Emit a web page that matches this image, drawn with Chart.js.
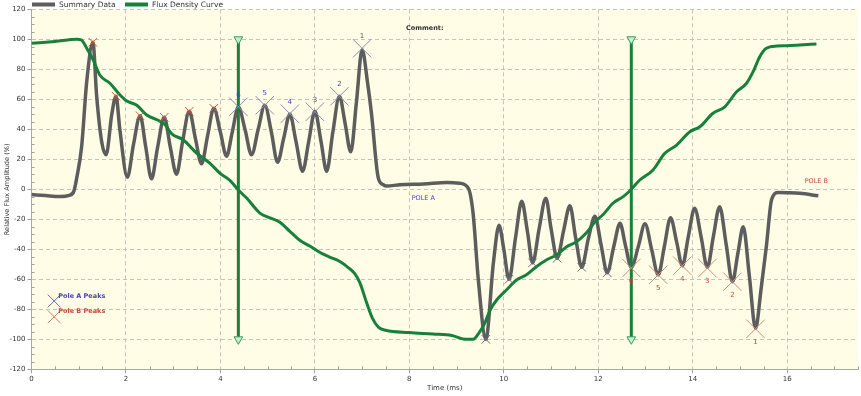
<!DOCTYPE html>
<html><head><meta charset="utf-8">
<script src="https://cdn.jsdelivr.net/npm/chart.js@4/dist/chart.umd.min.js"></script>
<style>html,body{margin:0;padding:0;background:#fff;}canvas{display:block;}</style>
</head><body>
<canvas id="c" width="861" height="396"></canvas>
<script>
// ---- data ----
const summaryX = [0,0.3,0.6,0.8,0.9,0.96,1.06,1.17,1.30,1.38,1.49,1.58,1.70,1.79,1.87,2.03,2.16,2.30,2.42,2.54,2.67,2.81,2.94,3.07,3.20,3.34,3.47,3.60,3.73,3.86,4.00,4.13,4.25,4.38,4.52,4.66,4.80,4.94,5.08,5.21,5.34,5.47,5.60,5.74,5.87,6.00,6.13,6.25,6.38,6.52,6.64,6.76,6.88,7.00,7.12,7.20,7.34,7.45,7.52,7.80,8.30,8.80,9.07,9.25,9.35,9.46,9.62,9.78,9.90,10.00,10.11,10.25,10.38,10.50,10.61,10.75,10.89,11.00,11.13,11.27,11.40,11.52,11.65,11.79,11.93,12.06,12.19,12.33,12.46,12.58,12.70,12.85,12.99,13.13,13.27,13.40,13.53,13.66,13.78,13.91,14.04,14.18,14.31,14.44,14.57,14.71,14.84,14.96,15.07,15.20,15.33,15.45,15.56,15.67,15.81,16.00,16.27,16.66];
const summaryY = [-3.5,-4.2,-4.8,-4.0,-1,8,28,72,98,62,31,23,50,62,40,8,30,49,28,7,28,48,28,10,32,52,34,17,36,54,38,22,38,55,40,23,40,56,38,18,34,50,32,12,32,52,32,12,38,62,44,25,58,93,70,50,8,3,2.2,3,3.5,4.5,4,0.7,-16,-60,-100,-49,-24,-40,-60,-32,-8,-28,-49,-26,-6,-26,-46,-27,-11,-32,-52,-33,-18,-37,-55.6,-38,-22.7,-38,-52,-38,-23,-40,-57,-38,-19,-35,-51,-31,-12.7,-32,-52,-31,-11.6,-37,-61.6,-42,-25,-58,-92.7,-66,-38,-7,-2.2,-2.3,-2.7,-4.3];

const fluxX = [0,0.5,0.96,1.06,1.17,1.31,1.45,1.66,1.87,2.01,2.23,2.44,2.68,2.83,2.97,3.21,3.50,3.64,3.78,3.99,4.20,4.38,4.56,4.84,5.05,5.26,5.47,5.68,5.90,6.10,6.30,6.52,6.70,6.84,6.95,7.10,7.22,7.35,7.50,8.00,8.50,8.90,9.20,9.35,9.49,9.60,9.71,9.85,10.06,10.27,10.48,10.69,10.91,11.12,11.33,11.54,11.75,11.95,12.10,12.31,12.53,12.67,12.88,13.16,13.41,13.66,13.94,14.15,14.43,14.68,14.93,15.14,15.28,15.42,15.56,15.78,15.99,16.27,16.62];
const fluxY = [97.3,98.6,100,99.5,94,86,76,70.7,63,59,56,49.5,46,43,37,33,24,20.7,17.3,10.7,6,-0.5,-6,-16,-19,-22,-28,-34,-38,-42,-45,-48,-52,-56,-62,-76,-86,-92,-94,-95.5,-96.5,-97.5,-100,-100,-95,-89,-80.5,-73.8,-67,-60.5,-57,-51.6,-47,-43.8,-38.3,-35,-29,-21,-17,-9.3,-4.9,-1,6.2,12.9,24,29.5,38.4,41.7,50.7,55,65,70.7,78.4,88.4,94,95.5,95.7,96.2,96.9];

const cursorX = [4.38, 12.70];
const cursorY = [100, -100];

const poleAX = [4.38, 4.94, 5.47, 6.00, 6.52, 7.00];
const poleAY = [55, 56, 50.4, 51.7, 62, 94];
const poleBX = [12.70, 13.27, 13.78, 14.31, 14.84, 15.33];
const poleBY = [-52.5, -57, -51, -52.5, -61.6, -93];
const peakLabels = ['6','5','4','3','2','1'];

const minorTopX = [1.30, 1.79, 2.30, 2.81, 3.34, 3.86];
const minorTopY = [98, 62, 49, 48, 52, 54];
const minorBotX = [9.62, 10.11, 10.61, 11.13, 11.65, 12.19];
const minorBotY = [-100, -60, -49, -46, -52, -55.6];

const xTicks = [0,2,4,6,8,10,12,14,16];
const yTicks = [-120,-100,-80,-60,-40,-20,0,20,40,60,80,100,120];

const legendNames = ['Summary Data', 'Flux Density Curve'];
const keyNames = ['Pole A Peaks', 'Pole B Peaks'];

// ---- styling ----
const GRAY = '#5d5d5d', GREEN = '#18803c';
const BLUE_TXT = '#4646b4', RED_TXT = '#c8483a';
const pts = (xs, ys) => xs.map((v, i) => ({x: v, y: ys[i]}));

const notes = [
  {text: 'Comment:', x: 7.93, y: 107, color: '#333', font: 'bold 6.5px "DejaVu Sans"', align: 'left'},
  {text: 'POLE A', x: 8.05, y: -5.8, color: BLUE_TXT, font: '6.5px "DejaVu Sans"', align: 'left'},
  {text: 'POLE B', x: 16.37, y: 5.5, color: RED_TXT, font: '6.5px "DejaVu Sans"', align: 'left'},
];
const keyPos = [{x: 0.48, y: -74.5, color: '#6a6aa8', txt: BLUE_TXT}, {x: 0.48, y: -85, color: '#d07a64', txt: RED_TXT}];

const bgPlugin = {
  id: 'bg',
  beforeDraw(chart) {
    const {ctx, chartArea: a} = chart;
    ctx.save();
    ctx.fillStyle = '#fffde6';
    ctx.fillRect(a.left, a.top, a.right - a.left, a.bottom - a.top);
    ctx.restore();
  }
};

const decoPlugin = {
  id: 'deco',
  afterDraw(chart) {
    const {ctx, chartArea: a, scales: {x, y}} = chart;
    ctx.save();
    // minor ticks
    ctx.strokeStyle = '#a0a0a0'; ctx.lineWidth = 1;
    ctx.beginPath();
    for (let v = -115; v < 120; v += 5) {
      if (v % 20 === 0) continue;
      const py = Math.round(y.getPixelForValue(v)) + 0.5;
      ctx.moveTo(a.left, py); ctx.lineTo(a.left + 3, py);
    }
    for (let v = 0.5; v <= 17.5; v += 0.5) {
      if (v % 2 === 0) continue;
      const px = Math.round(x.getPixelForValue(v)) + 0.5;
      ctx.moveTo(px, a.bottom); ctx.lineTo(px, a.bottom - 3);
    }
    ctx.stroke();

    // peak numbers
    ctx.font = '7px "DejaVu Sans"';
    ctx.textAlign = 'center'; ctx.textBaseline = 'middle';
    ctx.fillStyle = BLUE_TXT;
    poleAX.forEach((v, i) => ctx.fillText(peakLabels[i], x.getPixelForValue(v), y.getPixelForValue(poleAY[i]) - 12));
    ctx.fillStyle = RED_TXT;
    poleBX.forEach((v, i) => ctx.fillText(peakLabels[i], x.getPixelForValue(v), y.getPixelForValue(poleBY[i]) + 13));

    // notes
    notes.forEach(n => {
      ctx.font = n.font; ctx.fillStyle = n.color; ctx.textAlign = n.align;
      ctx.fillText(n.text, x.getPixelForValue(n.x), y.getPixelForValue(n.y));
    });
    // key texts
    ctx.font = 'bold 6.5px "DejaVu Sans"'; ctx.textAlign = 'left';
    keyPos.forEach((k, i) => {
      ctx.fillStyle = k.txt;
      ctx.fillText(keyNames[i], x.getPixelForValue(k.x) + 4, y.getPixelForValue(k.y) - 5);
    });

    // legend
    ctx.font = '7.5px "DejaVu Sans"'; ctx.fillStyle = '#333'; ctx.textAlign = 'left';
    ctx.lineWidth = 4; ctx.lineCap = 'butt';
    ctx.strokeStyle = GRAY; ctx.beginPath(); ctx.moveTo(32, 4.5); ctx.lineTo(55, 4.5); ctx.stroke();
    ctx.fillText(legendNames[0], 59, 5);
    ctx.strokeStyle = GREEN; ctx.beginPath(); ctx.moveTo(125, 4.5); ctx.lineTo(148, 4.5); ctx.stroke();
    ctx.fillText(legendNames[1], 152, 5);
    ctx.restore();
  }
};

const xMarker = (color, r) => ({
  type: 'scatter', showLine: false, pointStyle: 'crossRot', pointRadius: r, pointHoverRadius: r,
  borderColor: color, backgroundColor: color, pointBorderWidth: 1, borderWidth: 1
});

new Chart(document.getElementById('c'), {
  type: 'line',
  data: {
    datasets: [
      Object.assign({label: 'poleA', data: pts(poleAX, poleAY), order: 0}, xMarker('#8c8cac', 13)),
      Object.assign({label: 'poleB', data: pts(poleBX, poleBY), order: 0}, xMarker('#cc9078', 13)),
      Object.assign({label: 'smallTop', data: pts(minorTopX, minorTopY), order: 0}, xMarker('#d05a3a', 6)),
      Object.assign({label: 'smallBot', data: pts(minorBotX, minorBotY), order: 0}, xMarker('#6a6a80', 6)),
      Object.assign({label: 'keyA', data: [{x: keyPos[0].x, y: keyPos[0].y}], order: 0}, xMarker(keyPos[0].color, 9)),
      Object.assign({label: 'keyB', data: [{x: keyPos[1].x, y: keyPos[1].y}], order: 0}, xMarker(keyPos[1].color, 9)),
      {label: 'cursor1', data: pts([cursorX[0], cursorX[0]], cursorY), borderColor: GREEN, borderWidth: 3,
       pointStyle: 'triangle', rotation: 180, pointRadius: 5, pointBackgroundColor: '#c9efcf', pointBorderColor: '#3a9a5a', pointBorderWidth: 1, order: 1},
      {label: 'cursor2', data: pts([cursorX[1], cursorX[1]], cursorY), borderColor: GREEN, borderWidth: 3,
       pointStyle: 'triangle', rotation: 180, pointRadius: 5, pointBackgroundColor: '#c9efcf', pointBorderColor: '#3a9a5a', pointBorderWidth: 1, order: 1},
      {label: legendNames[1], data: pts(fluxX, fluxY), borderColor: GREEN, borderWidth: 3, pointRadius: 0,
       cubicInterpolationMode: 'monotone', order: 2},
      {label: legendNames[0], data: pts(summaryX, summaryY), borderColor: GRAY, borderWidth: 3.5, pointRadius: 0,
       cubicInterpolationMode: 'monotone', order: 3},
    ]
  },
  options: {
    responsive: false, animation: false, devicePixelRatio: 1,
    layout: {autoPadding: false, padding: {top: 9.3, right: 3, left: 0, bottom: 0}},
    plugins: {legend: {display: false}, tooltip: {enabled: false}},
    events: [],
    scales: {
      x: {
        type: 'linear', min: 0, max: 17.5,
        afterFit: s => { s.height = 26.7; s.paddingLeft = 0; s.paddingRight = 0; },
        afterBuildTicks: s => { s.ticks = xTicks.map(v => ({value: v})); },
        ticks: {font: {family: 'DejaVu Sans', size: 7}, color: '#333', padding: 2, maxRotation: 0, autoSkip: false},
        grid: {color: '#c4c4bc', tickColor: '#a0a0a0', tickLength: 4, lineWidth: 1},
        border: {color: '#a8a8a8', dash: [4, 3]},
        title: {display: true, text: 'Time (ms)', font: {family: 'DejaVu Sans', size: 7}, color: '#333', padding: {top: 0, bottom: 4}}
      },
      y: {
        type: 'linear', min: -120, max: 120,
        afterFit: s => { s.width = 31.5; s.paddingTop = 0; s.paddingBottom = 0; },
        afterBuildTicks: s => { s.ticks = yTicks.map(v => ({value: v})); },
        ticks: {font: {family: 'DejaVu Sans', size: 7}, color: '#333', padding: 2, autoSkip: false},
        grid: {color: '#c4c4bc', tickColor: '#a0a0a0', tickLength: 4, lineWidth: 1},
        border: {color: '#a8a8a8', dash: [4, 3]},
        title: {display: true, text: 'Relative Flux Amplitude (%)', font: {family: 'DejaVu Sans', size: 6.6}, color: '#333', padding: {top: 3, bottom: 0}}
      }
    }
  },
  plugins: [bgPlugin, decoPlugin]
});
</script>
</body></html>
